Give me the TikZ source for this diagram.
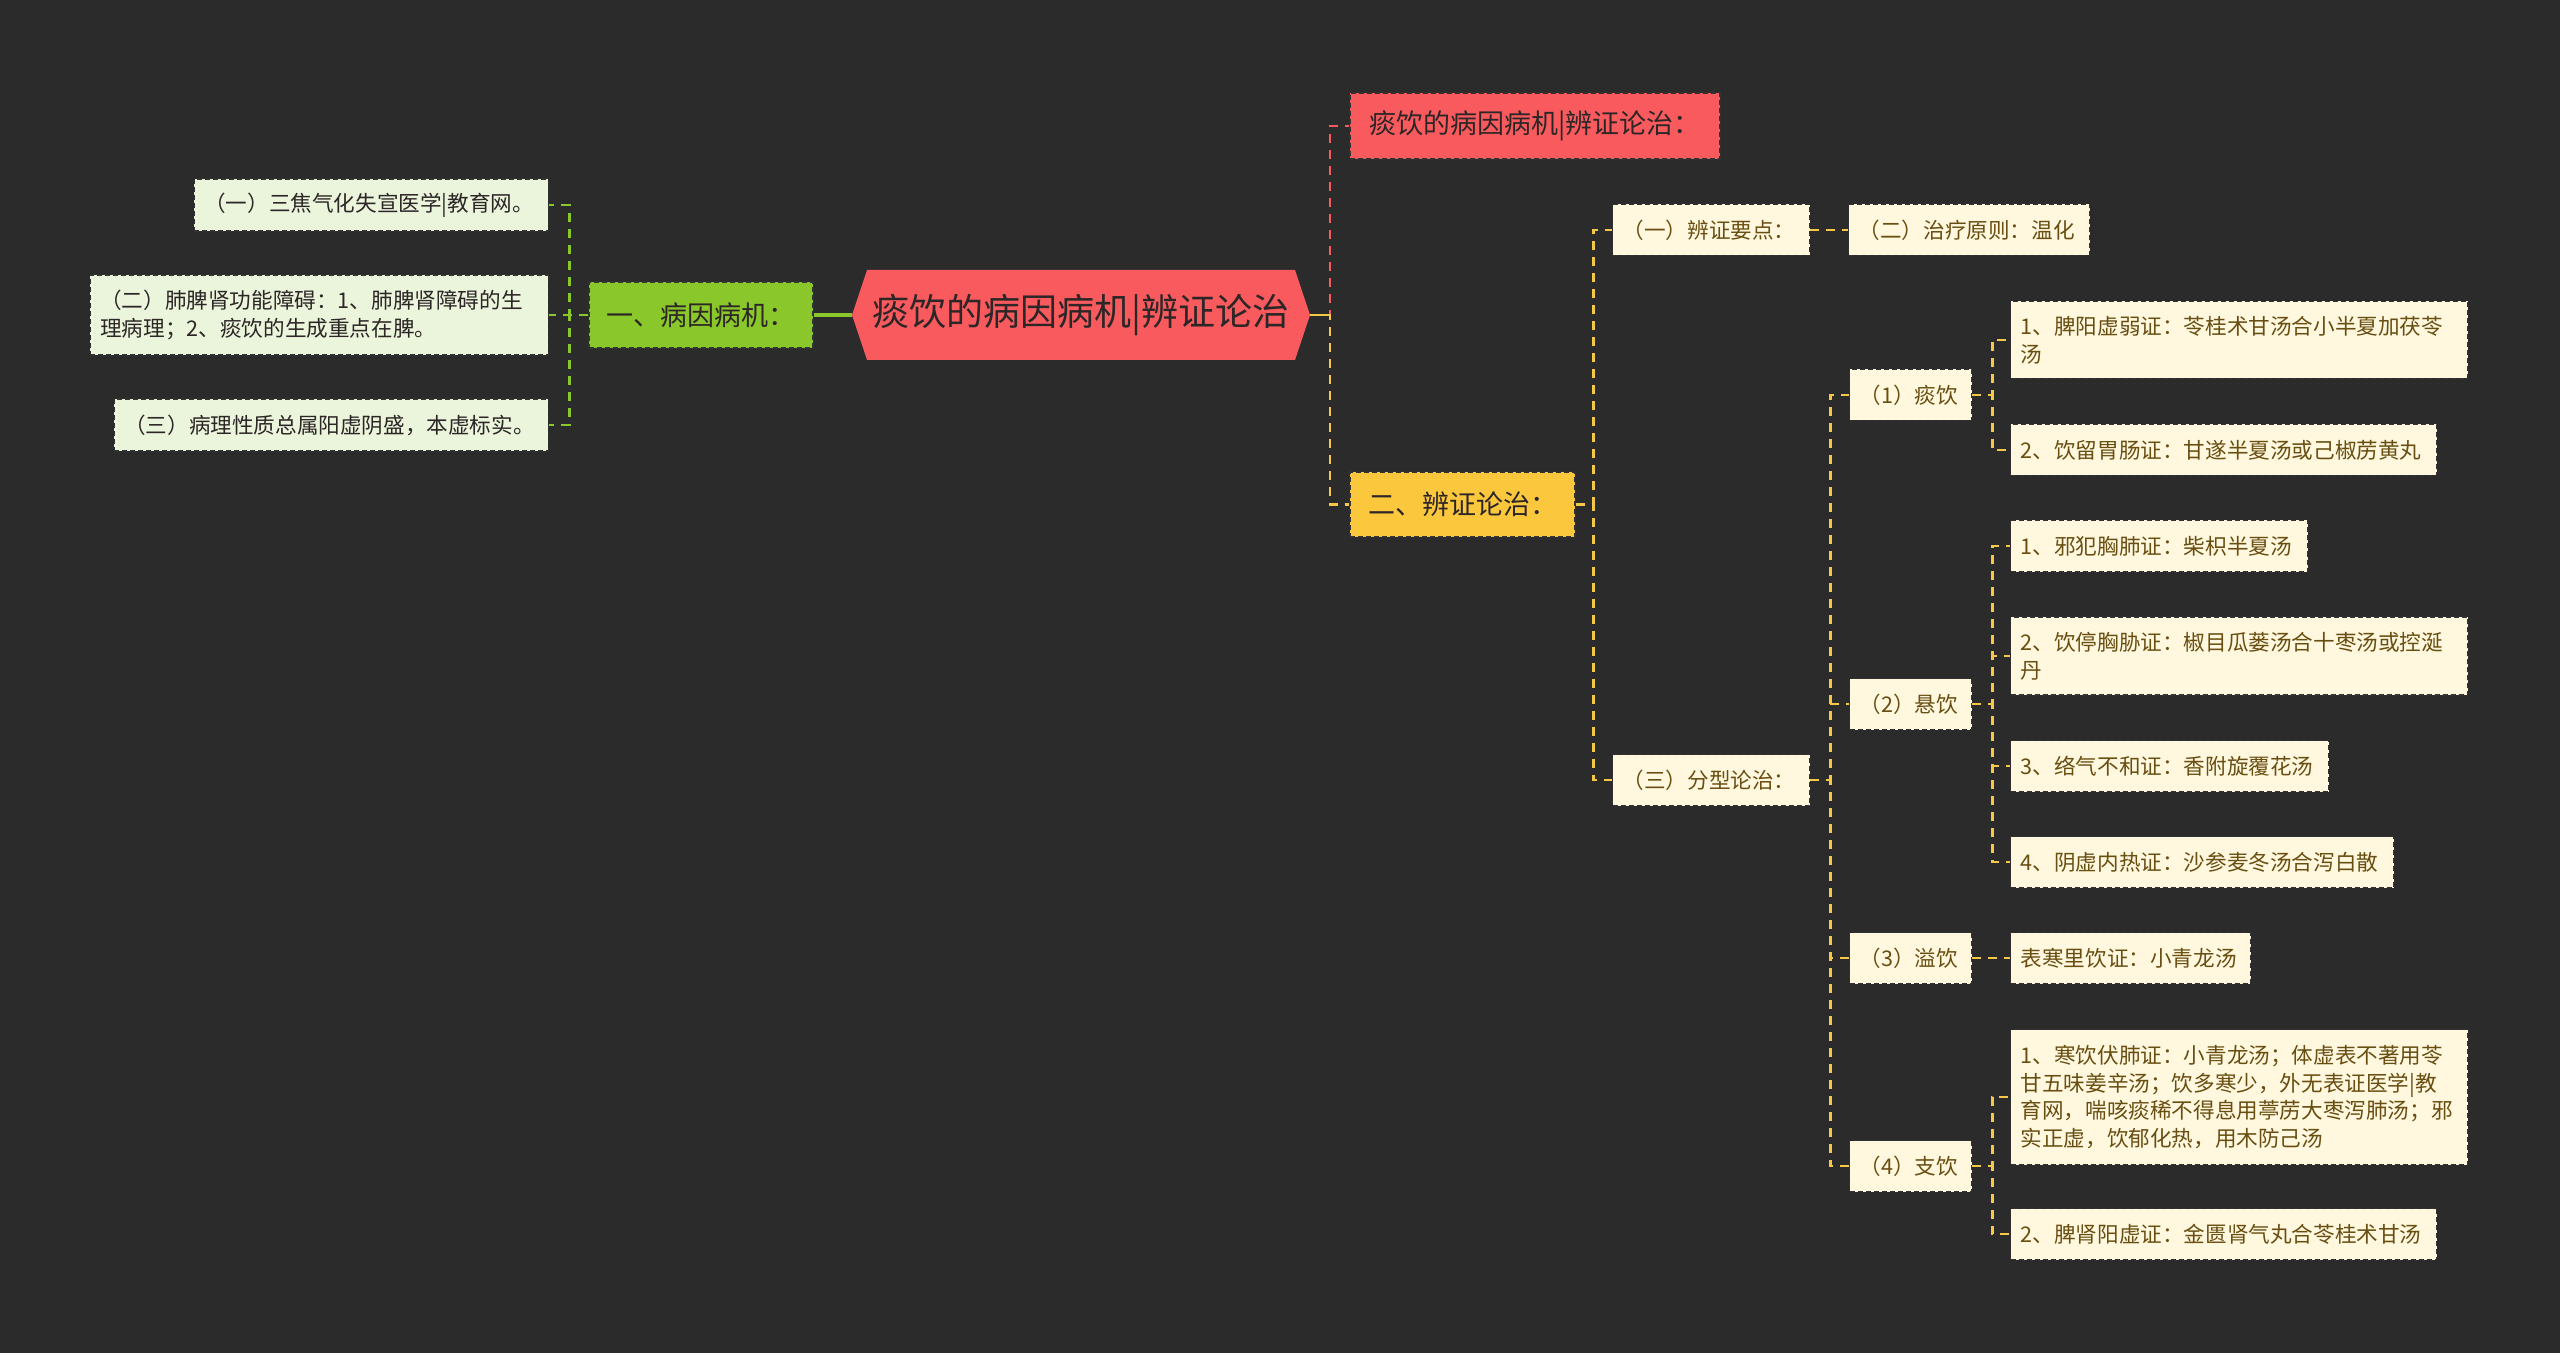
\documentclass[tikz,border=0pt]{standalone}
\usepackage{fontspec}
\setmainfont{Noto Sans CJK SC}
\definecolor{bg}{RGB}{43,43,43}
\definecolor{rootc}{RGB}{249,90,94}
\definecolor{greenc}{RGB}{137,199,42}
\definecolor{yellowc}{RGB}{251,199,61}
\definecolor{linec}{RGB}{245,200,72}
\definecolor{creamc}{RGB}{255,248,222}
\definecolor{lgreenc}{RGB}{234,245,220}
\definecolor{browntext}{RGB}{105,78,18}
\definecolor{darktext}{RGB}{45,38,38}
\definecolor{borderc}{RGB}{50,50,50}
\begin{document}
\begin{tikzpicture}[x=0.5pt,y=-0.5pt,
  box/.style={draw=borderc, line width=0.7pt, dash pattern=on 2.5pt off 1.5pt,
    inner xsep=5pt, inner ysep=0pt, align=left,
    font=\fontsize{10.8}{13.9}\selectfont},
  leafR/.style={box, fill=creamc, text=browntext, anchor=west},
  leafL/.style={box, fill=lgreenc, text=darktext, anchor=east},
  cat/.style={draw=borderc, line width=0.7pt, dash pattern=on 2.5pt off 1.5pt,
    inner xsep=6pt, inner ysep=0pt, text=darktext,
    font=\fontsize{13.5}{16}\selectfont},
  conn/.style={line width=1.3pt, dash pattern=on 4.5pt off 3.5pt},
  single/.style={minimum height=25.5pt}]
\fill[bg] (0,0) rectangle (2560,1353);
% root
\fill[rootc] (852,315) -- (867,270) -- (1295,270) -- (1310,315) -- (1295,360) -- (867,360) -- cycle;
\node[font=\fontsize{18.5}{22}\selectfont, text=darktext] (root) at (1081,315) {痰饮的病因病机|辨证论治};
\coordinate (rootL) at (852,315);
\coordinate (rootR) at (1310,315);
% categories
\node[cat, fill=greenc, minimum width=112pt, minimum height=33pt] (catL) at (701,315) {一、病因病机：};
\node[cat, fill=rootc, minimum width=185pt, minimum height=33pt] (catR1) at (1535,126) {痰饮的病因病机|辨证论治：};
\node[cat, fill=yellowc, minimum width=112.5pt, minimum height=32.5pt] (catR2) at (1462.5,504.5) {二、辨证论治：};
% left leaves
\node[leafL, text width=167pt, minimum height=26pt] (L1) at (549,205) {（一）三焦气化失宣医学|教育网。};
\node[leafL, text width=219pt, minimum height=40pt] (L2) at (549,315) {（二）肺脾肾功能障碍：1、肺脾肾障碍的生\\理病理；2、痰饮的生成重点在脾。};
\node[leafL, text width=207pt, minimum height=26pt] (L3) at (549,425) {（三）病理性质总属阳虚阴盛，本虚标实。};
% right level 2
\node[leafR, single, text width=88.5pt] (a1) at (1612,230) {（一）辨证要点：};
\node[leafR, single, text width=110.5pt] (a2) at (1848,230) {（二）治疗原则：温化};
\node[leafR, single, text width=88.5pt] (a3) at (1612,780) {（三）分型论治：};
% level 3
\node[leafR, single, text width=51pt] (b1) at (1849,395) {（1）痰饮};
\node[leafR, single, text width=51pt] (b2) at (1849,704) {（2）悬饮};
\node[leafR, single, text width=51pt] (b3) at (1849,958) {（3）溢饮};
\node[leafR, single, text width=51pt] (b4) at (1849,1166) {（4）支饮};
% leaves
\node[leafR, text width=218.5pt, minimum height=38.5pt] (c11) at (2010,340) {1、脾阳虚弱证：苓桂术甘汤合小半夏加茯苓\\汤};
\node[leafR, single, text width=203pt] (c12) at (2010,450) {2、饮留胃肠证：甘遂半夏汤或己椒苈黄丸};
\node[leafR, single, text width=138.5pt] (c21) at (2010,546) {1、邪犯胸肺证：柴枳半夏汤};
\node[leafR, text width=218.5pt, minimum height=39pt] (c22) at (2010,656) {2、饮停胸胁证：椒目瓜蒌汤合十枣汤或控涎\\丹};
\node[leafR, single, text width=149pt] (c23) at (2010,766) {3、络气不和证：香附旋覆花汤};
\node[leafR, single, text width=181.5pt] (c24) at (2010,862) {4、阴虚内热证：沙参麦冬汤合泻白散};
\node[leafR, single, text width=110pt] (c31) at (2010,958) {表寒里饮证：小青龙汤};
\node[leafR, text width=218.5pt, minimum height=67.5pt] (c41) at (2010,1097) {1、寒饮伏肺证：小青龙汤；体虚表不著用苓\\甘五味姜辛汤；饮多寒少，外无表证医学|教\\育网，喘咳痰稀不得息用葶苈大枣泻肺汤；邪\\实正虚，饮郁化热，用木防己汤};
\node[leafR, single, text width=203pt] (c42) at (2010,1234) {2、脾肾阳虚证：金匮肾气丸合苓桂术甘汤};
% connectors left
\draw[line width=1.6pt, greenc] (rootL) -- (catL.east);
\foreach \n in {L1,L2,L3}{\draw[conn, greenc] (catL.west) -- ++(-19,0) |- (\n.east);}
% connectors right
\draw[conn, rootc] (rootR) -- ++(20,0) |- (catR1.west);
\draw[conn, linec] (rootR) -- ++(20,0) |- (catR2.west);
\draw[line width=1.3pt, linec] (rootR) -- ++(20,0);
\foreach \n in {a1,a3}{\draw[conn, linec] (catR2.east) -- ++(18,0) |- (\n.west);}
\draw[conn, linec] (a1.east) -- (a2.west);
\foreach \n in {b1,b2,b3,b4}{\draw[conn, linec] (a3.east) -- ++(20,0) |- (\n.west);}
\foreach \n in {c11,c12}{\draw[conn, linec] (b1.east) -- ++(20,0) |- (\n.west);}
\foreach \n in {c21,c22,c23,c24}{\draw[conn, linec] (b2.east) -- ++(20,0) |- (\n.west);}
\draw[conn, linec] (b3.east) -- (c31.west);
\foreach \n in {c41,c42}{\draw[conn, linec] (b4.east) -- ++(20,0) |- (\n.west);}
\end{tikzpicture}
\end{document}
